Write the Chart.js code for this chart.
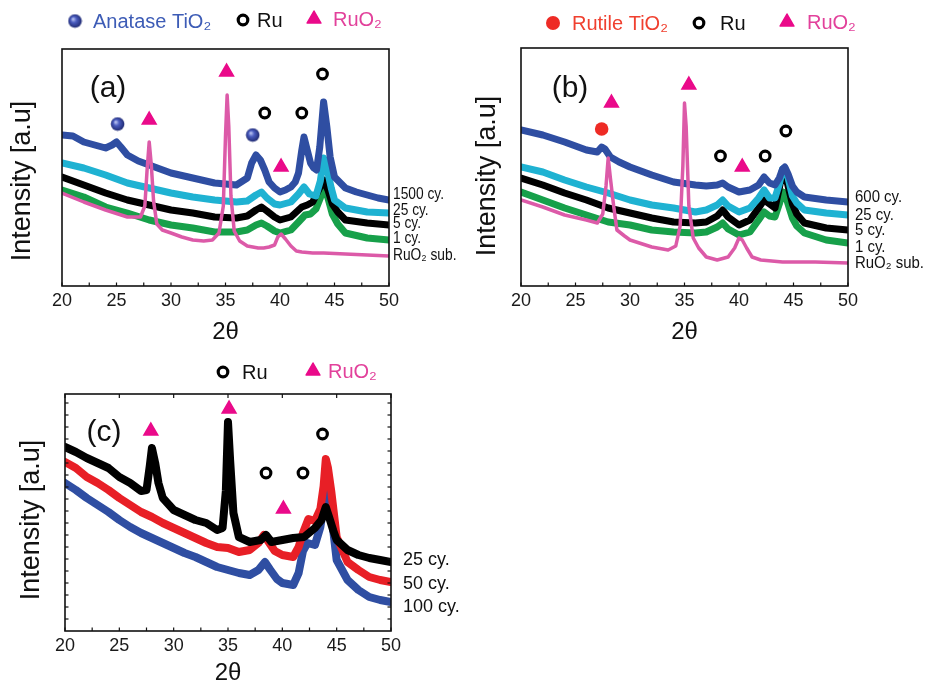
<!DOCTYPE html>
<html><head><meta charset="utf-8">
<script src="https://cdn.jsdelivr.net/npm/chart.js@4.4.0/dist/chart.umd.min.js"></script>
<style>
html,body{margin:0;padding:0;background:#fff;width:935px;height:685px;overflow:hidden;}
canvas{position:absolute;}
</style></head><body>
<canvas id="ca" width="460" height="345" style="left:0;top:0"></canvas>
<canvas id="cb" width="475" height="345" style="left:460px;top:0"></canvas>
<canvas id="cc" width="470" height="345" style="left:0;top:340px"></canvas>
<script>
// ---------------- DATA (2θ in degrees, intensity in arbitrary units) ----------------
const xTicks = [20, 25, 30, 35, 40, 45, 50];

// Panel (a): anatase TiO2 on RuO2
const aNames = ['1500 cy.', '25 cy.', '5 cy.', '1 cy.', 'RuO₂ sub.'];
const a1500X = [20,21,22,23,24,24.6,25,25.4,26,27,28,29,30,32,34,36,37,37.4,37.8,38.2,38.6,39,39.5,40,40.5,41,41.4,41.7,42,42.2,42.5,42.8,43.1,43.35,43.65,44,44.3,44.6,45,46,47,48,49,50];
const a1500Y = [151,150,144,141,138,141,144,139,131,125,121,117,113,108,103,101,108,123,131,126,116,104,98,94,96,99,104,113,136,149,136,123,118,116,139,184,159,129,109,98,94,91,88,86];
const a25X = [20,22,24,26,28,30,32,34,36,37,37.8,38.3,38.8,39.5,40,41,41.7,42.2,42.7,43.3,43.7,44,44.3,44.7,45,46,48,50];
const a25Y = [123,118,111,103,98,93,89,86,84,85,91,94,88,82,81,84,92,99,92,90,105,128,118,98,86,78,74,73];
const a5X = [20,22,24,26,28,30,32,34,36,37,37.8,38.3,38.8,39.5,40,41,41.5,42,42.5,43,43.5,44,44.4,44.8,45.3,46,48,50];
const a5Y = [109,101,93,86,81,76,73,69,68,70,76,79,75,69,66,69,74,79,81,84,95,106,96,82,74,66,63,61];
const a1X = [20,22,24,26,28,30,32,34,36,37,37.8,38.3,38.8,39.5,40,41,41.7,42.3,42.8,43.3,43.7,44,44.4,44.8,45.3,46,48,50];
const a1Y = [96,89,79,73,66,61,58,54,54,56,61,63,60,55,53,56,64,71,72,77,88,99,88,72,62,53,48,46];
const aSubX = [20,22,24,26,27.2,27.6,27.8,28,28.2,28.4,28.7,29.2,30,31,32,33,33.8,34.4,34.8,35,35.15,35.3,35.5,35.8,36.3,37,38,38.5,39,39.5,39.8,40.1,40.5,41,41.5,42,43,44,46,48,50];
const aSubY = [93,84,76,69,69,80,115,144,120,85,62,56,53,49,46,45,46,53,80,150,191,160,90,55,45,40,38,38,39,41,49,52,47,40,35,34,33,33,32,31,30];
// peak markers (a)
const aAnataseX = [25.1, 37.5], aAnataseY = [162, 151];
const aRuX = [38.6, 42.0, 43.9], aRuY = [173, 173, 212];
const aRuO2X = [28.0, 35.1, 40.1], aRuO2Y = [166, 214, 119];

// Panel (b): rutile TiO2 on RuO2
const bNames = ['600 cy.', '25 cy.', '5 cy.', '1 cy.', 'RuO₂ sub.'];
const b600X = [20,22,24,26,27,27.4,27.7,28.2,29,30,32,34,36,37,38,38.5,39,40,41,41.8,42.3,42.8,43.3,43.7,44,44.2,44.5,44.9,45.3,46,48,50];
const b600Y = [156,151,144,136,134,139,137,129,124,119,111,104,101,100,101,103,99,94,96,101,109,103,101,108,117,119,112,100,94,89,86,84];
const b25X = [20,22,24,26,28,30,32,34,36,37,38,38.5,39,40,41,41.8,42.3,42.8,43.3,43.7,44,44.2,44.5,44.9,45.3,46,48,50];
const b25Y = [119,114,106,99,93,86,81,78,74,76,81,86,80,74,78,88,96,88,88,102,117,118,108,90,83,76,73,71];
const b5X = [20,22,24,26,28,30,32,34,36,37,38,38.5,39,40,41,41.8,42.3,42.8,43.3,43.7,44,44.2,44.5,44.9,45.3,46,48,50];
const b5Y = [108,101,93,86,78,73,68,64,63,64,70,76,69,61,66,78,86,82,78,98,116,114,100,82,72,63,58,56];
const b1X = [20,22,24,26,28,30,32,34,36,37,38,38.5,39,40,41,41.8,42.3,42.8,43.3,43.7,44,44.2,44.5,44.9,45.3,46,48,50];
const b1Y = [94,86,78,71,64,61,56,54,53,54,59,63,57,51,54,66,74,70,69,82,94,93,82,68,60,53,46,43];
const bSubX = [20,22,24,26,27,27.5,27.8,28,28.2,28.5,28.8,29.5,30,32,33.5,34.2,34.6,34.85,35,35.15,35.4,35.8,36.3,37,38,39,39.6,40,40.3,40.7,41.2,42,44,47,50];
const bSubY = [86,79,71,66,63,72,100,128,108,80,56,50,46,39,36,40,60,120,183,160,80,48,38,29,26,29,38,48,46,38,29,26,24,24,23];
// peak markers (b)
const bRutileX = [27.4], bRutileY = [157];
const bRuX = [38.3, 42.4, 44.3], bRuY = [130, 130, 155];
const bRuO2X = [28.3, 35.4, 40.3], bRuO2Y = [183, 201, 119];

// Panel (c)
const cNames = ['25 cy.', '50 cy.', '100 cy.'];
const c25X = [20,21,22,23,24,25,26,27,27.5,27.8,28,28.3,28.6,29,30,31,32,33,34,34.5,34.8,35,35.2,35.5,36,37,38,38.5,39,40,41,42,43,43.6,44,44.3,44.7,45,46,47,48,49,50];
const c25Y = [184,179,173,168,163,154,148,140,141,165,183,168,148,133,121,116,111,108,101,103,140,209,170,118,94,89,91,96,89,91,93,94,103,111,124,114,100,91,81,76,73,71,69];
const c50X = [20,21,22,23,24,25,26,27,28,29,30,31,32,33,34,35,36,37,37.8,38.3,38.8,39.3,40,41,41.5,41.9,42.4,43,43.5,43.8,44,44.2,44.5,45,46,47,48,49,50];
const c50Y = [169,163,154,148,141,133,126,119,114,108,103,98,93,88,84,83,79,81,88,96,88,80,76,74,84,98,112,110,122,145,172,163,140,94,69,61,54,51,49];
const c100X = [20,21,22,23,24,25,26,27,28,29,30,31,32,33,34,35,36,37,37.8,38.4,38.9,39.5,40,41,41.5,41.9,42.3,43,43.5,43.8,44,44.2,44.5,45,46,47,48,49,50];
const c100Y = [148,141,133,126,119,111,104,98,93,88,83,78,74,69,64,61,58,56,61,69,61,52,48,46,58,80,88,86,104,125,148,140,118,71,51,41,34,31,29];
// peak markers (c)
const cRuX = [38.5, 41.9, 43.7], cRuY = [158, 158, 197];
const cRuO2X = [27.9, 35.1, 40.1], cRuO2Y = [200, 222, 122];

// ---------------- STYLES ----------------
const FONT = "'Liberation Sans', Arial, Helvetica, sans-serif";
const C = {blue:'#2f4ea2', cyan:'#1fb2d2', black:'#000000', green:'#17a04a', pink:'#dc5aa8', red:'#e81f26', ruo2:'#ea0a8a', rutile:'#ee2b25'};

function pts(xs, ys){ return xs.map((x,i)=>({x:x, y:ys[i]})); }

// shaded ball for anatase marker
const ballImg = (function(){
  const c = document.createElement('canvas'); c.width = 15; c.height = 15;
  const g = c.getContext('2d');
  const gr = g.createRadialGradient(5.5,5.5,0.5,7.5,7.5,7.5);
  gr.addColorStop(0,'#b8c2f0'); gr.addColorStop(0.35,'#4a5cc0'); gr.addColorStop(1,'#1a2468');
  g.fillStyle = gr; g.beginPath(); g.arc(7.5,7.5,6.8,0,Math.PI*2); g.fill();
  return c;
})();

function line(label, xs, ys, color, w){
  return {type:'line', label:label, data:pts(xs,ys), borderColor:color, backgroundColor:color,
    borderWidth:w, pointRadius:0, tension:0, fill:false, borderJoinStyle:'round', borderCapStyle:'round'};
}
function marks(label, xs, ys, kind){
  const d = {type:'scatter', label:label, data:pts(xs,ys), showLine:false};
  if (kind==='anatase'){ d.pointStyle = ballImg; d.pointRadius = 7; }
  if (kind==='rutile'){ d.pointStyle='circle'; d.pointRadius=6.8; d.backgroundColor=C.rutile; d.borderColor=C.rutile; d.borderWidth=0; }
  if (kind==='ru'){ d.pointStyle='circle'; d.pointRadius=4.8; d.backgroundColor='#fff'; d.borderColor='#000'; d.borderWidth=3.2; }
  if (kind==='ruo2'){ d.pointStyle='triangle'; d.pointRadius=8; d.backgroundColor=C.ruo2; d.borderColor=C.ruo2; d.borderWidth=1.5; }
  return d;
}

function drawMarker(ctx, kind, x, y){
  ctx.save();
  if (kind==='anatase'){ ctx.drawImage(ballImg, x-7.5, y-7.5); }
  else if (kind==='rutile'){ ctx.fillStyle=C.rutile; ctx.beginPath(); ctx.arc(x,y,7,0,Math.PI*2); ctx.fill(); }
  else if (kind==='ru'){ ctx.strokeStyle='#000'; ctx.lineWidth=3.2; ctx.beginPath(); ctx.arc(x,y,4.8,0,Math.PI*2); ctx.stroke(); }
  else if (kind==='ruo2'){
    const r=8; ctx.fillStyle=C.ruo2; ctx.strokeStyle=C.ruo2; ctx.lineWidth=1.5; ctx.lineJoin='round';
    ctx.beginPath();
    for (let k=0;k<3;k++){ const a=k*2*Math.PI/3; const px=x+Math.sin(a)*r, py=y-Math.cos(a)*r; if(k===0) ctx.moveTo(px,py); else ctx.lineTo(px,py); }
    ctx.closePath(); ctx.fill(); ctx.stroke();
  }
  ctx.restore();
}

const decor = {
  id:'decor',
  afterDraw(chart, args, o){
    const ctx = chart.ctx, ca = chart.chartArea, xs = chart.scales.x, ys = chart.scales.y;
    ctx.save();
    // frame
    ctx.strokeStyle='#111'; ctx.lineWidth=1.6;
    ctx.strokeRect(ca.left, ca.top, ca.right-ca.left, ca.bottom-ca.top);
    // inward x ticks
    ctx.lineWidth=1.2;
    for (let v=20; v<=50.001; v+=2.5){
      const px = xs.getPixelForValue(v);
      ctx.beginPath(); ctx.moveTo(px, ca.bottom); ctx.lineTo(px, ca.bottom-3.5); ctx.stroke();
      if (o.topTicks && v%5===0){ ctx.beginPath(); ctx.moveTo(px, ca.top); ctx.lineTo(px, ca.top+4); ctx.stroke(); }
    }
    if (o.yTicks){
      for (let v=12; v<ys.max; v+=12){
        const py = ys.getPixelForValue(v); const L = 3.5;
        ctx.beginPath(); ctx.moveTo(ca.left, py); ctx.lineTo(ca.left+L, py); ctx.stroke();
        ctx.beginPath(); ctx.moveTo(ca.right, py); ctx.lineTo(ca.right-L, py); ctx.stroke();
      }
    }
    // panel label
    ctx.fillStyle='#111'; ctx.textAlign='center'; ctx.textBaseline='middle';
    ctx.font = '30px ' + FONT;
    ctx.fillText(o.panel, o.panelX, o.panelY);
    // y title
    ctx.save(); ctx.translate(o.yTitleX, o.yTitleY); ctx.rotate(-Math.PI/2);
    ctx.font = '27px ' + FONT; ctx.fillText('Intensity [a.u]', 0, 0); ctx.restore();
    // series labels at right
    ctx.textAlign='left'; ctx.font = o.rightFont + 'px ' + FONT; ctx.fillStyle='#111';
    o.names.forEach((t,i)=>{
      ctx.save(); ctx.translate(o.rightX, o.rightY[i]); ctx.scale(o.rightScale,1); ctx.fillText(t,0,0); ctx.restore();
    });
    // legend
    ctx.font = '20px ' + FONT;
    o.legend.forEach(it=>{
      drawMarker(ctx, it.kind, it.x, it.y);
      ctx.fillStyle = it.color; ctx.fillText(it.text, it.tx, it.y+1);
    });
    ctx.restore();
  }
};

function makeChart(id, datasets, pad, axisH, titleLH, decorOpts){
  return new Chart(document.getElementById(id), {
    type:'line',
    data:{datasets:datasets},
    plugins:[decor],
    options:{
      responsive:false, animation:false, events:[],
      layout:{padding:pad},
      scales:{
        x:{type:'linear', min:20, max:50, position:'bottom',
           afterBuildTicks: s => { s.ticks = xTicks.map(v=>({value:v})); },
           afterFit: s => { s.height = axisH; },
           grid:{display:false, drawTicks:false}, border:{display:false},
           ticks:{padding:4, color:'#1a1a1a', font:{family:FONT, size:18}},
           title:{display:true, text:'2θ', color:'#111', font:{family:FONT, size:24, lineHeight:titleLH}, padding:{top:0,bottom:1}}},
        y:{type:'linear', min:0, max:decorOpts.yMax, display:false}
      },
      plugins:{legend:{display:false}, tooltip:{enabled:false}, decor:decorOpts}
    }
  });
}

// Panel (a)
makeChart('ca', [
  marks('Anatase TiO₂', aAnataseX, aAnataseY, 'anatase'),
  marks('Ru', aRuX, aRuY, 'ru'),
  marks('RuO₂', aRuO2X, aRuO2Y, 'ruo2'),
  line(aNames[4], aSubX, aSubY, C.pink, 3.5),
  line(aNames[0], a1500X, a1500Y, C.blue, 7),
  line(aNames[1], a25X, a25Y, C.cyan, 7),
  line(aNames[2], a5X, a5Y, C.black, 7),
  line(aNames[3], a1X, a1Y, C.green, 7)
], {left:62, top:49, right:71, bottom:0}, 59, 1, {
  yMax:237, panel:'(a)', panelX:108, panelY:89, yTitleX:23, yTitleY:181,
  names:aNames, rightX:393, rightY:[195,211,224,239,256], rightFont:16, rightScale:0.86,
  topTicks:false, yTicks:false,
  legend:[
    {kind:'anatase', x:75, y:21, text:'Anatase TiO₂', tx:93, color:'#3d5cb6'},
    {kind:'ru', x:243, y:20, text:'Ru', tx:257, color:'#111'},
    {kind:'ruo2', x:314, y:19, text:'RuO₂', tx:333, color:'#e2419b'}
  ]
});

// Panel (b)
makeChart('cb', [
  marks('Rutile TiO₂', bRutileX, bRutileY, 'rutile'),
  marks('Ru', bRuX, bRuY, 'ru'),
  marks('RuO₂', bRuO2X, bRuO2Y, 'ruo2'),
  line(bNames[4], bSubX, bSubY, C.pink, 3.5),
  line(bNames[0], b600X, b600Y, C.blue, 7),
  line(bNames[1], b25X, b25Y, C.cyan, 7),
  line(bNames[2], b5X, b5Y, C.black, 7),
  line(bNames[3], b1X, b1Y, C.green, 7)
], {left:61, top:48, right:87, bottom:0}, 59, 1, {
  yMax:238, panel:'(b)', panelX:110, panelY:89, yTitleX:28, yTitleY:176,
  names:bNames, rightX:395, rightY:[197,215,230,247,263], rightFont:17, rightScale:0.88,
  topTicks:false, yTicks:false,
  legend:[
    {kind:'rutile', x:93, y:23, text:'Rutile TiO₂', tx:112, color:'#f0402f'},
    {kind:'ru', x:239, y:23, text:'Ru', tx:260, color:'#111'},
    {kind:'ruo2', x:327, y:22, text:'RuO₂', tx:347, color:'#e2419b'}
  ]
});

// Panel (c)
makeChart('cc', [
  marks('Ru', cRuX, cRuY, 'ru'),
  marks('RuO₂', cRuO2X, cRuO2Y, 'ruo2'),
  line(cNames[0], c25X, c25Y, C.black, 8),
  line(cNames[1], c50X, c50Y, C.red, 8),
  line(cNames[2], c100X, c100Y, C.blue, 8)
], {left:65, top:54, right:79, bottom:0}, 54, 0.85, {
  yMax:237, panel:'(c)', panelX:104, panelY:93, yTitleX:32, yTitleY:180,
  names:cNames, rightX:403, rightY:[220,244,267], rightFont:18, rightScale:1,
  topTicks:true, yTicks:true,
  legend:[
    {kind:'ru', x:223, y:32, text:'Ru', tx:242, color:'#111'},
    {kind:'ruo2', x:313, y:31, text:'RuO₂', tx:328, color:'#e2419b'}
  ]
});
</script>
</body></html>
